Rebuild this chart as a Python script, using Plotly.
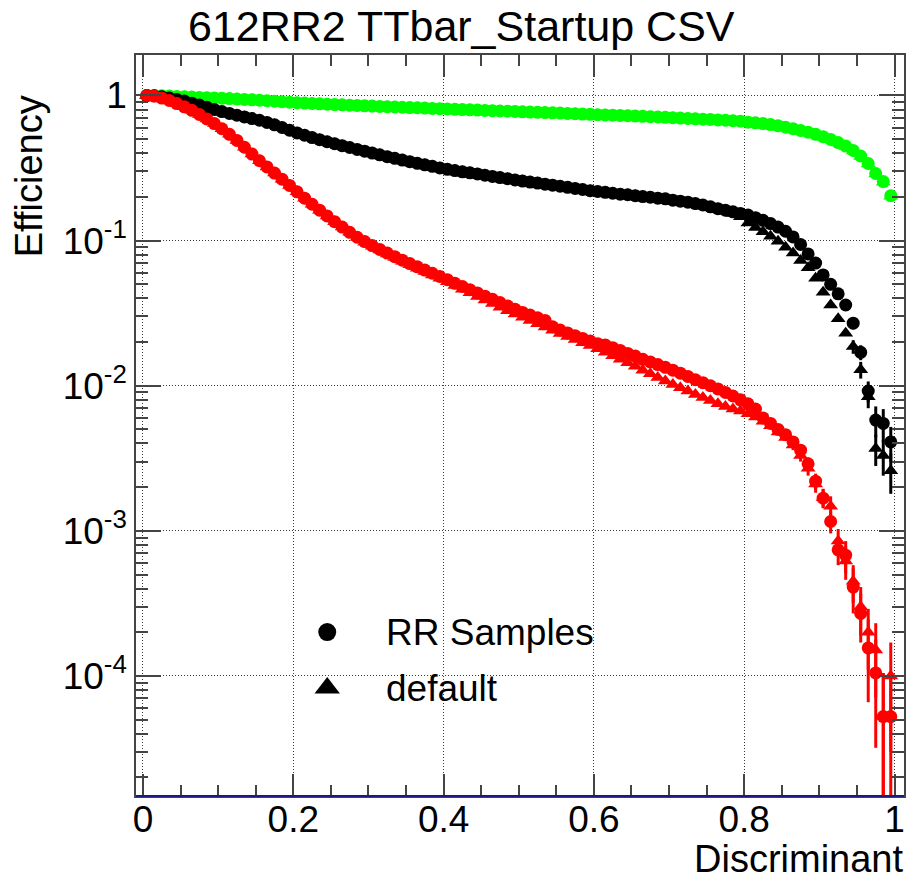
import plotly.graph_objects as go

# Discriminant bin centres (100 bins of width 0.01)
disc = [round(0.005 + 0.01 * i, 3) for i in range(100)]

# b-jet efficiency
b_rr = [1.00, 1.00, 0.995, 0.99, 0.985, 0.98, 0.975, 0.97, 0.966, 0.962,
        0.957, 0.952, 0.946, 0.940, 0.934, 0.928, 0.921, 0.914, 0.907, 0.899,
        0.892, 0.886, 0.881, 0.876, 0.871, 0.866, 0.862, 0.857, 0.853, 0.849,
        0.845, 0.841, 0.837, 0.833, 0.830, 0.826, 0.823, 0.819, 0.815, 0.811,
        0.807, 0.803, 0.800, 0.796, 0.793, 0.789, 0.786, 0.782, 0.779, 0.776,
        0.772, 0.769, 0.766, 0.762, 0.759, 0.756, 0.752, 0.749, 0.745, 0.742,
        0.738, 0.735, 0.732, 0.728, 0.725, 0.721, 0.718, 0.714, 0.711, 0.707,
        0.703, 0.699, 0.695, 0.691, 0.687, 0.683, 0.679, 0.675, 0.670, 0.665,
        0.655, 0.648, 0.640, 0.630, 0.619, 0.604, 0.590, 0.574, 0.558, 0.540,
        0.520, 0.498, 0.474, 0.448, 0.418, 0.383, 0.340, 0.290, 0.255, 0.204]
b_def = [1.00, 1.00, 0.995, 0.99, 0.985, 0.98, 0.975, 0.97, 0.965, 0.961,
         0.956, 0.951, 0.945, 0.939, 0.933, 0.927, 0.920, 0.913, 0.906, 0.898,
         0.891, 0.885, 0.880, 0.875, 0.870, 0.865, 0.861, 0.856, 0.852, 0.848,
         0.844, 0.840, 0.836, 0.832, 0.829, 0.825, 0.822, 0.818, 0.814, 0.810,
         0.806, 0.802, 0.799, 0.795, 0.792, 0.788, 0.785, 0.781, 0.778, 0.775,
         0.771, 0.768, 0.765, 0.761, 0.758, 0.755, 0.751, 0.748, 0.744, 0.741,
         0.737, 0.734, 0.731, 0.727, 0.724, 0.720, 0.717, 0.713, 0.710, 0.706,
         0.702, 0.698, 0.694, 0.690, 0.686, 0.682, 0.678, 0.674, 0.669, 0.663,
         0.653, 0.646, 0.638, 0.628, 0.616, 0.601, 0.587, 0.571, 0.555, 0.537,
         0.517, 0.495, 0.471, 0.445, 0.415, 0.380, 0.337, 0.288, 0.252, 0.202]

# c-jet efficiency
c_rr = [1.00, 0.995, 0.98, 0.96, 0.94, 0.915, 0.885, 0.86, 0.83, 0.80,
        0.775, 0.752, 0.731, 0.712, 0.693, 0.675, 0.652, 0.628, 0.602, 0.576,
        0.552, 0.532, 0.513, 0.496, 0.480, 0.465, 0.451, 0.438, 0.425, 0.413,
        0.401, 0.390, 0.379, 0.369, 0.359, 0.350, 0.341, 0.333, 0.325, 0.317,
        0.310, 0.304, 0.298, 0.293, 0.288, 0.282, 0.277, 0.272, 0.267, 0.262,
        0.257, 0.253, 0.249, 0.245, 0.241, 0.237, 0.233, 0.229, 0.225, 0.221,
        0.218, 0.215, 0.212, 0.209, 0.207, 0.204, 0.201, 0.199, 0.196, 0.194,
        0.190, 0.187, 0.184, 0.180, 0.176, 0.171, 0.166, 0.162, 0.158, 0.154,
        0.150, 0.144, 0.138, 0.131, 0.124, 0.116, 0.106, 0.094, 0.081, 0.070,
        0.058, 0.050, 0.043, 0.036, 0.027, 0.017, 0.0092, 0.0058, 0.0055, 0.0041]
c_def = [1.00, 0.995, 0.98, 0.96, 0.94, 0.915, 0.885, 0.86, 0.83, 0.80,
         0.775, 0.752, 0.731, 0.712, 0.693, 0.675, 0.652, 0.628, 0.602, 0.576,
         0.552, 0.532, 0.513, 0.496, 0.480, 0.465, 0.451, 0.438, 0.425, 0.413,
         0.401, 0.390, 0.379, 0.369, 0.359, 0.350, 0.341, 0.333, 0.325, 0.317,
         0.310, 0.304, 0.298, 0.293, 0.288, 0.282, 0.277, 0.272, 0.267, 0.262,
         0.257, 0.253, 0.249, 0.245, 0.241, 0.237, 0.233, 0.229, 0.225, 0.221,
         0.218, 0.215, 0.212, 0.209, 0.207, 0.204, 0.201, 0.199, 0.196, 0.193,
         0.189, 0.186, 0.182, 0.178, 0.174, 0.170, 0.165, 0.160, 0.154, 0.146,
         0.132, 0.123, 0.115, 0.107, 0.099, 0.090, 0.082, 0.073, 0.065, 0.055,
         0.044, 0.036, 0.029, 0.023, 0.0186, 0.0129, 0.0084, 0.0037, 0.0033, 0.0026]

# light-jet efficiency
l_rr = [1.00, 0.99, 0.96, 0.925, 0.88, 0.835, 0.79, 0.74, 0.69, 0.64,
        0.59, 0.54, 0.49, 0.44, 0.395, 0.355, 0.322, 0.292, 0.265, 0.240,
        0.217, 0.196, 0.178, 0.162, 0.148, 0.135, 0.124, 0.114, 0.1055, 0.0985,
        0.0925, 0.0870, 0.0820, 0.0775, 0.0733, 0.0695, 0.0660, 0.0627, 0.0596, 0.0566,
        0.0538, 0.0508, 0.0483, 0.0459, 0.0436, 0.0414, 0.0394, 0.0374, 0.0355, 0.0337,
        0.0320, 0.0307, 0.0294, 0.0282, 0.0255, 0.0242, 0.0231, 0.0221, 0.0212, 0.0203,
        0.0195, 0.0191, 0.0183, 0.0175, 0.0167, 0.0160, 0.0152, 0.0146, 0.0140, 0.0134,
        0.0128, 0.0122, 0.0116, 0.0110, 0.0105, 0.0100, 0.0095, 0.0090, 0.0085, 0.0080,
        0.0075, 0.0069, 0.0060, 0.0055, 0.0050, 0.0046, 0.0041, 0.0036, 0.0029, 0.0022,
        0.00168, 0.00116, 0.00074, 0.00068, 0.00041, 0.00027, 0.000156, 0.000105, 0.0000525, 0.0000525]
l_def = [1.00, 0.99, 0.96, 0.925, 0.88, 0.835, 0.79, 0.74, 0.69, 0.64,
         0.59, 0.54, 0.49, 0.44, 0.395, 0.355, 0.322, 0.292, 0.265, 0.240,
         0.217, 0.196, 0.178, 0.162, 0.148, 0.135, 0.124, 0.114, 0.1050, 0.0975,
         0.0915, 0.0860, 0.0810, 0.0765, 0.0722, 0.0683, 0.0646, 0.0612, 0.0580, 0.0550,
         0.0520, 0.0490, 0.0462, 0.0437, 0.0412, 0.0389, 0.0368, 0.0348, 0.0329, 0.0312,
         0.0296, 0.0281, 0.0267, 0.0254, 0.0241, 0.0229, 0.0218, 0.0208, 0.0198, 0.0189,
         0.0180, 0.0170, 0.0161, 0.0152, 0.0144, 0.0136, 0.0128, 0.0121, 0.0114, 0.0108,
         0.0102, 0.0097, 0.0092, 0.0087, 0.0083, 0.0079, 0.0075, 0.0072, 0.0069, 0.0067,
         0.0064, 0.0061, 0.0057, 0.0053, 0.0048, 0.0044, 0.0039, 0.0033, 0.0027, 0.0021,
         0.0017, 0.00148, 0.00085, 0.00062, 0.00045, 0.00030, 0.00020, 0.000151, 0.0000525, 0.000100]

# Statistical uncertainties in the last bins (earlier bins are smaller than the markers)
TAIL_START = 86
c_rr_err_tail = [0.0, 0.0, 0.0, 0.0, 0.0, 0.0, 0.0, 0.003, 0.0025, 0.002, 0.0015, 0.0014, 0.0014, 0.0011]
c_def_err_tail = [0.0, 0.0, 0.0, 0.0, 0.0, 0.0, 0.0, 0.0, 0.002, 0.0017, 0.0014, 0.0009, 0.0009, 0.0008]
l_rr_err_tail = [0.0003, 0.0003, 0.0003, 0.00028, 0.00025, 0.0002, 0.00016, 0.00017, 0.00014,
                 0.0001, 0.00009, 0.000073, 0.0000525, 0.0000525]
l_def_err_tail = [0.0003, 0.0003, 0.0003, 0.00027, 0.00025, 0.00025, 0.00018, 0.00016, 0.00013,
                  0.00011, 0.00009, 0.00008, 0.0000525, 0.00007]


def full_err(tail):
    return [0.0] * TAIL_START + tail


GREEN, BLACK, RED = "#00ff00", "#000000", "#ff0000"
FONT = "Liberation Sans, Arial, Helvetica, sans-serif"
MSIZE = 13

fig = go.Figure()


def add_series(y, err, color, symbol):
    fig.add_trace(go.Scatter(
        x=disc, y=y, mode="markers",
        marker=dict(symbol=symbol, size=MSIZE, color=color, line=dict(width=0)),
        error_y=dict(type="data", array=err, visible=True, thickness=3,
                     width=0, color=color),
        showlegend=False, hoverinfo="skip",
    ))


# default (triangles) underneath, RR samples (circles) on top
add_series(b_def, None, GREEN, "triangle-up")
add_series(c_def, full_err(c_def_err_tail), BLACK, "triangle-up")
add_series(l_def, full_err(l_def_err_tail), RED, "triangle-up")
add_series(b_rr, None, GREEN, "circle")
add_series(c_rr, full_err(c_rr_err_tail), BLACK, "circle")
add_series(l_rr, full_err(l_rr_err_tail), RED, "circle")

# Legend keys on an invisible unit overlay
legend_names = ["RR Samples", "default"]
legend_symbols = ["circle", "triangle-up"]
legend_y = [0.2213, 0.1457]
for name, sym, yy in zip(legend_names, legend_symbols, legend_y):
    fig.add_trace(go.Scatter(
        x=[0.249], y=[yy], mode="markers", xaxis="x2", yaxis="y2",
        marker=dict(symbol=sym, size=18 if sym == "circle" else 22, color=BLACK),
        showlegend=False, hoverinfo="skip", cliponaxis=False,
    ))
    fig.add_annotation(x=0.3234, y=yy, xref="x2", yref="y2", text=name,
                       showarrow=False, xanchor="left", yanchor="middle",
                       font=dict(family=FONT, size=37, color="black"))

axis_common = dict(
    showline=True, linecolor="#444444", linewidth=1.5, mirror="allticks",
    ticks="inside", tickcolor="#444444", tickwidth=1.5,
    showgrid=True, gridcolor="#3a3a3a", griddash="1px,2px", gridwidth=1,
    zeroline=False, tickfont=dict(family=FONT, size=37, color="black"),
)

x_ticks = [0, 0.2, 0.4, 0.6, 0.8, 1.0]
x_ticktext = ["0", "0.2", "0.4", "0.6", "0.8", "1"]
y_ticks = [1e-4, 1e-3, 1e-2, 1e-1, 1]
y_ticktext = ["10<sup>-4</sup>", "10<sup>-3</sup>", "10<sup>-2</sup>", "10<sup>-1</sup>", "1"]

fig.update_layout(
    width=910, height=881,
    margin=dict(l=136, r=4, t=55, b=85),
    paper_bgcolor="white", plot_bgcolor="white",
    font=dict(family=FONT, color="black"),
    xaxis=dict(range=[-0.0093, 1.0126], tickmode="array", tickvals=x_ticks,
               ticktext=x_ticktext, ticklen=22, ticklabelstandoff=-10,
               minor=dict(dtick=0.05, tick0=0, ticks="inside", ticklen=11,
                          tickcolor="#444444", tickwidth=1.5, showgrid=False),
               **axis_common),
    yaxis=dict(type="log", range=[-4.827, 0.279], tickmode="array",
               tickvals=y_ticks, ticktext=y_ticktext, ticklen=25,
               minor=dict(dtick="D1", ticks="inside", ticklen=12,
                          tickcolor="#444444", tickwidth=1.5, showgrid=False),
               **axis_common),
    xaxis2=dict(range=[0, 1], overlaying="x", visible=False),
    yaxis2=dict(range=[0, 1], overlaying="y", visible=False),
)

# Axis line along the bottom drawn in ROOT's dark blue
fig.add_shape(type="line", xref="paper", yref="paper", x0=0, x1=1, y0=0, y1=0,
              line=dict(color="#1a1a80", width=2))

fig.add_annotation(text="612RR2 TTbar_Startup CSV", xref="paper", yref="paper",
                   x=(462 - 136) / 770, y=1.0, xanchor="center", yanchor="bottom",
                   yshift=3, showarrow=False,
                   font=dict(family=FONT, size=43, color="black"))
fig.add_annotation(text="Efficiency", xref="paper", yref="paper",
                   x=-0.139, y=(796 - 176) / 741, textangle=-90, showarrow=False,
                   xanchor="center", yanchor="middle",
                   font=dict(family=FONT, size=38, color="black"))
fig.add_annotation(text="Discriminant", xref="paper", yref="paper",
                   x=1.0, y=(796 - 881) / 741, xanchor="right", yanchor="bottom",
                   showarrow=False, borderpad=0,
                   font=dict(family=FONT, size=38, color="black"))

fig.write_html("out.html")
